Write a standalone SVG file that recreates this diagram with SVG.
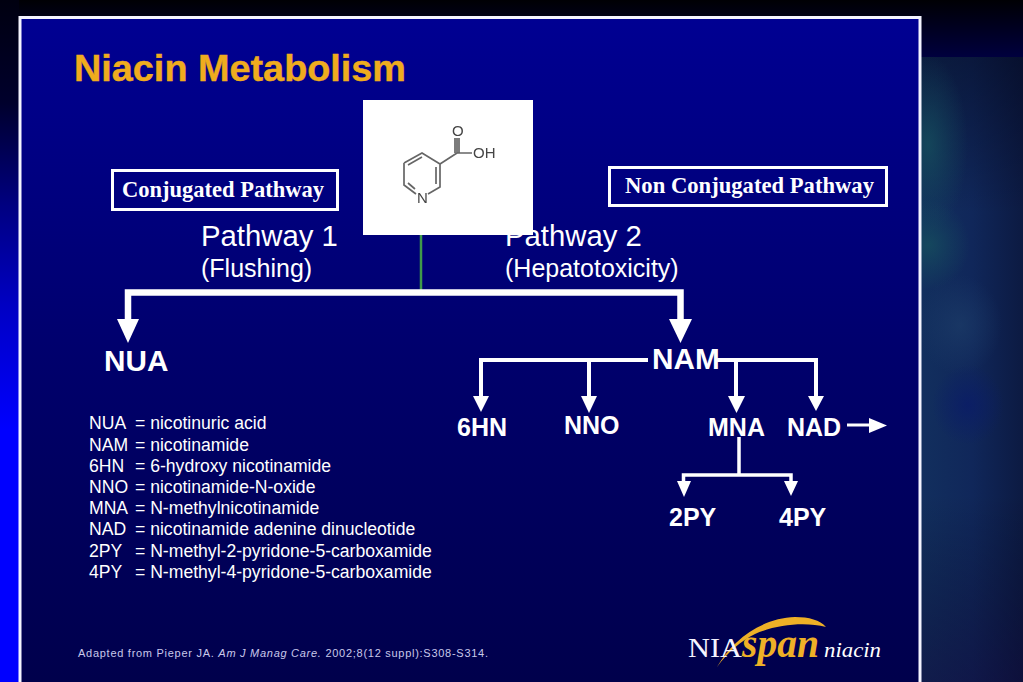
<svg xmlns="http://www.w3.org/2000/svg" width="1023" height="682" viewBox="0 0 1023 682">
<defs>
<linearGradient id="left" x1="0" y1="0" x2="0" y2="1"><stop offset="0" stop-color="#000010"/><stop offset="0.15" stop-color="#00002c"/><stop offset="0.3" stop-color="#000080"/><stop offset="0.45" stop-color="#0000c4"/><stop offset="0.63" stop-color="#0000ff"/><stop offset="1" stop-color="#0000ff"/></linearGradient>
<linearGradient id="top" gradientUnits="userSpaceOnUse" x1="0" y1="0" x2="0" y2="57"><stop offset="0" stop-color="#000004"/><stop offset="1" stop-color="#00003e"/></linearGradient>
<linearGradient id="panel" x1="0" y1="0" x2="0" y2="1"><stop offset="0" stop-color="#000092"/><stop offset="0.5" stop-color="#00006c"/><stop offset="1" stop-color="#00004a"/></linearGradient>
<linearGradient id="right" gradientUnits="userSpaceOnUse" x1="921" y1="0" x2="1023" y2="0"><stop offset="0" stop-color="#122f5e"/><stop offset="0.5" stop-color="#10275a"/><stop offset="1" stop-color="#0c1a42"/></linearGradient>
<linearGradient id="rightv" x1="0" y1="0" x2="0" y2="1"><stop offset="0" stop-color="#000010" stop-opacity="0.4"/><stop offset="0.25" stop-color="#000010" stop-opacity="0"/><stop offset="0.7" stop-color="#000010" stop-opacity="0"/><stop offset="1" stop-color="#100030" stop-opacity="0.4"/></linearGradient>
<radialGradient id="teal"><stop offset="0" stop-color="#16505e" stop-opacity="0.75"/><stop offset="0.5" stop-color="#16505e" stop-opacity="0.35"/><stop offset="1" stop-color="#16505e" stop-opacity="0"/></radialGradient>
<radialGradient id="slate"><stop offset="0" stop-color="#1c3c68" stop-opacity="0.7"/><stop offset="1" stop-color="#1c3c68" stop-opacity="0"/></radialGradient>
<radialGradient id="navy"><stop offset="0" stop-color="#0a1c68" stop-opacity="0.8"/><stop offset="1" stop-color="#0a1c68" stop-opacity="0"/></radialGradient>
<filter id="fine" x="-5%" y="-5%" width="110%" height="110%"><feGaussianBlur stdDeviation="0.45"/></filter>
<style>
.h{font-family:"Liberation Sans",Arial,sans-serif;font-weight:bold;fill:#fff;font-size:29.700px}
.h2{font-family:"Liberation Sans",Arial,sans-serif;font-weight:bold;fill:#fff;font-size:25px}
.nl{font-family:"Liberation Sans",Arial,sans-serif;fill:#fff;font-size:17.600px}
.p{font-family:"Liberation Sans",Arial,sans-serif;fill:#fff;font-size:29.300px}
.s{font-family:"Liberation Sans",Arial,sans-serif;fill:#fff;font-size:25px}
.b{font-family:"Liberation Serif","Times New Roman",serif;font-weight:bold;fill:#fff;font-size:22.500px}
.box{fill:none;stroke:#fff;stroke-width:3}
.c{fill:none;stroke:#fff;stroke-linejoin:miter}
.a{fill:#fff;stroke:none}
.m{stroke:#666;stroke-width:1.7;fill:none}
.mt{font-family:"Liberation Sans",Arial,sans-serif;fill:#444;font-size:15px}
</style>
</defs>
<rect id="bg" width="1023" height="57" fill="url(#top)"/>
<rect y="57" width="1023" height="625" fill="#00003e"/>
<rect width="19" height="682" fill="url(#left)"/>
<rect x="921" y="57" width="102" height="625" fill="url(#right)"/>
<rect x="921" y="57" width="102" height="625" fill="url(#rightv)"/>
<ellipse cx="928" cy="145" rx="40" ry="90" fill="url(#teal)"/>
<ellipse cx="928" cy="245" rx="42" ry="45" fill="url(#teal)"/>
<ellipse cx="960" cy="325" rx="42" ry="50" fill="url(#slate)"/>
<ellipse cx="968" cy="405" rx="36" ry="40" fill="url(#navy)"/>
<rect id="panel-bg" x="20" y="17.500" width="900" height="680" fill="url(#panel)" stroke="#f4f4ff" stroke-width="3"/>

<text id="title" x="74" y="81" font-family="Liberation Sans,Arial,sans-serif" font-weight="bold" font-size="37" fill="#efac1e" stroke="#efac1e" stroke-width="0.4" textLength="332" lengthAdjust="spacingAndGlyphs">Niacin Metabolism</text>

<g id="connectors">
<path d="M421 235V290" fill="none" stroke="#3f9a4a" stroke-width="2.500"/>
<path class="c" stroke-width="6.500" d="M128 321V292.500H680.500V321"/>
<path class="a" d="M117 319H139L128 343Z"/>
<path class="a" d="M669 319H692L680.500 343Z"/>
<path class="c" stroke-width="4" d="M648 360H481V398"/>
<path class="a" d="M473 396H489L481 412Z"/>
<path class="c" stroke-width="4" d="M589 360V398"/>
<path class="a" d="M581 396H597L589 413Z"/>
<path class="c" stroke-width="4" d="M716 360H816V398"/>
<path class="a" d="M808 396H824L816 411Z"/>
<path class="c" stroke-width="4" d="M736 360V398"/>
<path class="a" d="M728 396H745L736.500 413Z"/>
<path class="c" stroke-width="3" d="M847 425H872"/>
<path class="a" d="M869 418L887 425.500L869 433Z"/>
<path class="c" stroke-width="3.500" d="M739 437V475M683.500 484V475H791V484"/>
<path class="a" d="M677 481H691L684 497Z"/>
<path class="a" d="M784 481H798L791 496Z"/>
</g>

<g id="molecule">
<rect x="363" y="100" width="170" height="135" fill="#fff"/>
<g filter="url(#fine)">
<path class="m" d="M404 163L422 153L440 164V187L428 194M416 194L404 185V163M408 165L422 157M436 167V184M408 183L415 189M440 164L457 153V138M455 138V153M459 138V153M457 153H472"/>
<text class="mt" x="452" y="136">O</text>
<text class="mt" x="473" y="158">OH</text>
<text class="mt" x="417" y="203">N</text>
</g>
</g>

<g id="conjugated-box"><rect class="box" x="112.500" y="170.500" width="225" height="39"/><text class="b" x="122" y="197" textLength="202" lengthAdjust="spacingAndGlyphs">Conjugated Pathway</text></g>
<g id="non-conjugated-box"><rect class="box" x="609.500" y="167.500" width="277" height="38"/><text class="b" x="625" y="193" textLength="249" lengthAdjust="spacingAndGlyphs">Non Conjugated Pathway</text></g>

<g id="pathway-1"><text class="p" x="201" y="246">Pathway 1</text><text class="s" x="201" y="277">(Flushing)</text></g>
<g id="pathway-2"><text class="p" x="505" y="246">Pathway 2</text><text class="s" x="505" y="277">(Hepatotoxicity)</text></g>

<g id="node-nua"><text class="h" x="104" y="371">NUA</text></g>
<g id="node-nam"><text class="h" x="652" y="369">NAM</text></g>
<g id="node-6hn"><text class="h2" x="457" y="436">6HN</text></g>
<g id="node-nno"><text class="h2" x="564" y="434">NNO</text></g>
<g id="node-mna"><text class="h2" x="708" y="436">MNA</text></g>
<g id="node-nad"><text class="h2" x="787" y="436">NAD</text></g>
<g id="node-2py"><text class="h2" x="669" y="526">2PY</text></g>
<g id="node-4py"><text class="h2" x="779" y="526">4PY</text></g>

<g id="legend">
<text class="nl" x="89" y="429">NUA</text><text class="nl" x="135" y="429">= nicotinuric acid</text>
<text class="nl" x="89" y="451">NAM</text><text class="nl" x="135" y="451">= nicotinamide</text>
<text class="nl" x="89" y="472">6HN</text><text class="nl" x="135" y="472">= 6-hydroxy nicotinamide</text>
<text class="nl" x="89" y="493">NNO</text><text class="nl" x="135" y="493">= nicotinamide-N-oxide</text>
<text class="nl" x="89" y="514">MNA</text><text class="nl" x="135" y="514">= N-methylnicotinamide</text>
<text class="nl" x="89" y="535">NAD</text><text class="nl" x="135" y="535">= nicotinamide adenine dinucleotide</text>
<text class="nl" x="89" y="557">2PY</text><text class="nl" x="135" y="557">= N-methyl-2-pyridone-5-carboxamide</text>
<text class="nl" x="89" y="578">4PY</text><text class="nl" x="135" y="578">= N-methyl-4-pyridone-5-carboxamide</text>
</g>

<text id="citation" x="78" y="657" font-family="Liberation Sans,Arial,sans-serif" font-size="11" fill="#c8c8ea" textLength="410">Adapted from Pieper JA. <tspan font-style="italic">Am J Manag Care.</tspan> 2002;8(12 suppl):S308-S314.</text>

<g id="logo">
<path d="M717 667C732 640 762 618 795 617C809 617 820 620 826 627C806 622 778 624 755 634C741 641 728 652 717 667Z" fill="#eeb027"/>
<text x="688" y="657" font-family="Liberation Serif,serif" font-size="27" fill="#f4f4ff" textLength="54" lengthAdjust="spacingAndGlyphs">NIA</text>
<text x="742" y="657" font-family="Liberation Serif,serif" font-style="italic" font-weight="bold" font-size="40" fill="#eeb027" textLength="77" lengthAdjust="spacingAndGlyphs">span</text>
<text x="824" y="657" font-family="Liberation Serif,serif" font-style="italic" font-size="21" fill="#fff" textLength="57" lengthAdjust="spacingAndGlyphs">niacin</text>
</g>
</svg>
